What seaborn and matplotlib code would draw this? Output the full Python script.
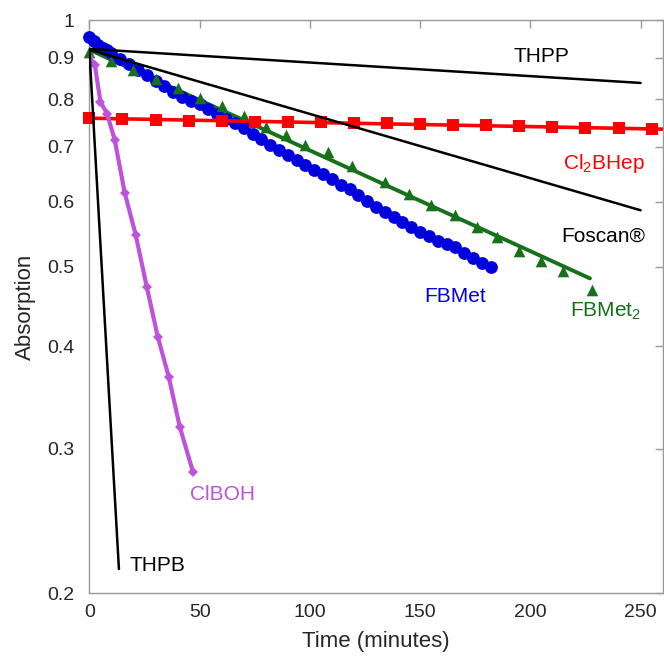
import matplotlib
matplotlib.use("Agg")
import matplotlib.pyplot as plt
import matplotlib.ticker as ticker
import seaborn as sns

sns.set_style("white")
plt.rcParams['font.family'] = ['Liberation Sans', 'DejaVu Sans']
plt.rcParams['mathtext.fontset'] = 'custom'
plt.rcParams['mathtext.rm'] = 'Liberation Sans'

# ---------------- data ----------------
# fitted straight lines (log scale), start/end
thpp_t = [0, 250]
thpp_a = [0.922, 0.838]
foscan_t = [0, 250]
foscan_a = [0.920, 0.586]
thpb_t = [0, 13.4]
thpb_a = [0.919, 0.214]

# Cl2BHep, red squares
clbhep_t = [0, 15, 30, 45, 60, 75, 90, 105, 120, 135, 150, 165, 180, 195, 210, 225, 240, 255]
clbhep_a = [0.759, 0.757, 0.755, 0.754, 0.753, 0.751, 0.751, 0.750, 0.749, 0.748,
            0.747, 0.745, 0.744, 0.743, 0.741, 0.739, 0.739, 0.736]
clbhep_line_t = [0, 260]
clbhep_line_a = [0.759, 0.736]

# ClBOH, purple diamonds
clboh_t = [0, 2.5, 5, 8, 11.5, 16, 21, 26, 31, 36, 41, 47]
clboh_a = [0.901, 0.881, 0.795, 0.769, 0.714, 0.616, 0.547, 0.473, 0.411, 0.367, 0.319, 0.281]

# FBMet, blue circles
fbmet_t = [0, 2, 4, 6, 8, 10, 14, 18, 22, 26, 30, 34, 38, 42, 46, 50, 54, 58, 62, 66,
           70, 74, 78, 82, 86, 90, 94, 98, 102, 106, 110, 114, 118, 122, 126, 130, 134,
           138, 142, 146, 150, 154, 158, 162, 166, 170, 174, 178, 182]
fbmet_a = [0.954, 0.943, 0.932, 0.925, 0.918, 0.911, 0.897, 0.884, 0.870, 0.856, 0.843,
           0.830, 0.817, 0.806, 0.797, 0.789, 0.779, 0.769, 0.758, 0.748, 0.739, 0.727,
           0.715, 0.704, 0.694, 0.684, 0.675, 0.666, 0.657, 0.648, 0.640, 0.630, 0.622,
           0.611, 0.602, 0.591, 0.583, 0.575, 0.567, 0.559, 0.552, 0.545, 0.538, 0.533,
           0.529, 0.520, 0.513, 0.506, 0.500]

# FBMet2, green triangles + fitted line
fbmet2_t = [0, 10, 20, 30, 40, 50, 60, 70, 80, 89, 98, 108, 119, 134, 145, 155, 166,
            176, 185, 195, 205, 215, 228]
fbmet2_a = [0.914, 0.891, 0.869, 0.847, 0.825, 0.803, 0.785, 0.764, 0.741, 0.724, 0.704,
            0.690, 0.664, 0.634, 0.613, 0.595, 0.578, 0.559, 0.544, 0.523, 0.508, 0.494,
            0.468]
fbmet2_line_t = [0, 227]
fbmet2_line_a = [0.920, 0.484]

y_ticks = [0.2, 0.3, 0.4, 0.5, 0.6, 0.7, 0.8, 0.9, 1.0]
y_tick_labels = ['0.2', '0.3', '0.4', '0.5', '0.6', '0.7', '0.8', '0.9', '1']
x_ticks = [0, 50, 100, 150, 200, 250]

BLUE = '#0000dd'
GREEN = '#17701a'
RED = '#ff0000'
PURPLE = '#bd52dc'

# ---------------- plot ----------------
fig = plt.figure(figsize=(6.64, 6.56), dpi=100)
ax = fig.add_axes([0.1346, 0.096, 0.8634, 0.8735])

sns.lineplot(x=fbmet2_line_t, y=fbmet2_line_a, color=GREEN, linewidth=2.8, ax=ax)
sns.scatterplot(x=fbmet_t, y=fbmet_a, color=BLUE, s=85, marker='o', linewidth=0, ax=ax,
                zorder=3, clip_on=False)
sns.scatterplot(x=fbmet2_t, y=fbmet2_a, color=GREEN, s=70, marker='^', linewidth=0, ax=ax,
                zorder=4, clip_on=False)
sns.lineplot(x=clbhep_line_t, y=clbhep_line_a, color=RED, linewidth=2.6, ax=ax, zorder=4)
sns.scatterplot(x=clbhep_t, y=clbhep_a, color=RED, s=70, marker='s', linewidth=0, ax=ax,
                zorder=5, clip_on=False)
sns.lineplot(x=clboh_t, y=clboh_a, color=PURPLE, linewidth=3.0, marker='D', markersize=5,
             markeredgewidth=0, ax=ax, zorder=5, sort=False)
for t, a in [(thpp_t, thpp_a), (foscan_t, foscan_a), (thpb_t, thpb_a)]:
    sns.lineplot(x=t, y=a, color='black', linewidth=1.8, ax=ax, zorder=6)

ax.set_yscale('log')
ax.set_ylim(0.2, 1.0)
ax.set_xlim(0, 260)
ax.yaxis.set_major_locator(ticker.FixedLocator(y_ticks))
ax.yaxis.set_major_formatter(ticker.FixedFormatter(y_tick_labels))
ax.yaxis.set_minor_locator(ticker.NullLocator())
ax.set_xticks(x_ticks)

for side in ['left', 'right', 'top', 'bottom']:
    ax.spines[side].set_color('#9a9a9a')
    ax.spines[side].set_linewidth(1.0)
ax.tick_params(direction='in', length=6, width=1, color='#9a9a9a', labelsize=14,
               top=True, right=True)
ax.tick_params(axis='x', pad=8)
ax.tick_params(axis='y', pad=11)

ax.set_xlabel('Time (minutes)', fontsize=16, labelpad=7)
ax.set_ylabel('Absorption', fontsize=16, labelpad=8)

fs = 15
ax.text(205, 0.902, 'THPP', fontsize=fs, ha='center', va='center', color='black')
ax.text(214.8, 0.668, r'Cl$_\mathregular{2}$BHep', fontsize=fs, ha='left', va='center', color=RED)
ax.text(214.1, 0.545, 'Foscan®', fontsize=fs, ha='left', va='center', color='black')
ax.text(165.9, 0.460, 'FBMet', fontsize=fs, ha='center', va='center', color=BLUE)
ax.text(217.9, 0.441, r'FBMet$_\mathregular{2}$', fontsize=fs, ha='left', va='center', color=GREEN)
ax.text(45.6, 0.264, 'ClBOH', fontsize=fs, ha='left', va='center', color=PURPLE)
ax.text(18.4, 0.216, 'THPB', fontsize=fs, ha='left', va='center', color='black')

plt.savefig('out.png', dpi=100)
